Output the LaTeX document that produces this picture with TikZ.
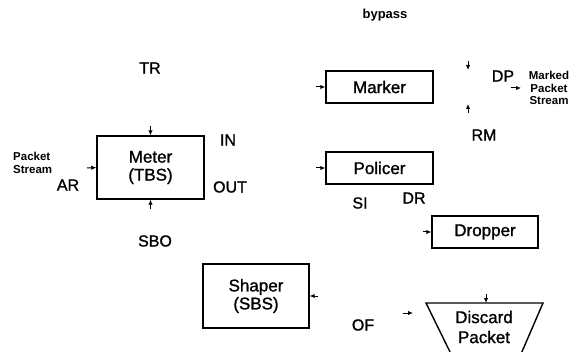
\documentclass[tikz,border=0pt]{standalone}
\usepackage{fontspec}
\setmainfont{Liberation Sans}[FakeBold=1.2]
\newfontfamily\smallbold{Liberation Sans Bold}
\usetikzlibrary{arrows.meta}
\begin{document}
\begin{tikzpicture}[x=1pt,y=-1pt,
  blk/.style={draw, line width=1.4pt, inner sep=0pt, align=center, font=\fontsize{17}{18}\selectfont},
  lbl/.style={inner sep=0pt, font=\fontsize{16}{18}\selectfont},
  small/.style={inner sep=0pt, font=\fontsize{11.5}{12.5}\selectfont\smallbold},
  stub/.style={line width=1pt, -{Latex[length=5pt,width=4.5pt]}}]
\useasboundingbox (0,0) rectangle (577,352);
% boxes
\node[blk, minimum width=107, minimum height=63] (meter) at (150.5,167.5) {Meter\\(TBS)};
\node[blk, minimum width=107, minimum height=32] (marker) at (379.5,87) {Marker};
\node[blk, minimum width=107, minimum height=32] (policer) at (379.5,168) {Policer};
\node[blk, minimum width=106, minimum height=32] (dropper) at (485,232) {Dropper};
\node[blk, minimum width=106, minimum height=64] (shaper) at (256,296) {Shaper\\(SBS)};
% discard trapezoid
\coordinate (d1) at (426,303);
\coordinate (d2) at (543,303);
\coordinate (d3) at (521,354);
\coordinate (d4) at (451,354);
\draw[line width=1.4pt] (d4) -- (d1) -- (d2) -- (d3);
\draw[line width=0.6pt] (d3) -- (d4);
\node[inner sep=0pt, align=center, font=\fontsize{17}{20}\selectfont] (discard) at (484,327) {Discard\\Packet};
\coordinate (dtop) at (486,303);
% labels
\node[lbl] (tr) at (150,68) {TR};
\node[lbl] (in) at (228,140) {IN};
\node[lbl] (out) at (230,187) {OUT};
\node[lbl] (ar) at (68,185) {AR};
\node[lbl] (sbo) at (155,241) {SBO};
\node[lbl] (dp) at (503,76) {DP};
\node[lbl] (rm) at (484,135) {RM};
\node[lbl] (si) at (360,203) {SI};
\node[lbl] (dr) at (414,198) {DR};
\node[lbl] (of) at (363,325) {OF};
\node[inner sep=0pt, font=\fontsize{13}{14}\selectfont\smallbold] (bypass) at (385,15) {bypass};
\node[small, align=left, anchor=west] (ps) at (13,163) {Packet\\Stream};
\node[small, align=center] (mps) at (549,88) {Marked\\Packet\\Stream};
% stubs
\coordinate (s1) at (150.5,126);
\draw[stub] (s1) -- (meter.north);
\coordinate (s2) at (150.5,209);
\draw[stub] (s2) -- (meter.south);
\coordinate (s3) at (87,168);
\draw[stub] (s3) -- (meter.west);
\coordinate (s4) at (316,87);
\draw[stub] (s4) -- (marker.west);
\coordinate (s5) at (316,168);
\draw[stub] (s5) -- (policer.west);
\coordinate (s6) at (423,232);
\draw[stub] (s6) -- (dropper.west);
\coordinate (s7) at (318,296);
\draw[stub] (s7) -- (shaper.east);
\coordinate (s8a) at (468,61);
\coordinate (s8b) at (468,70);
\draw[stub] (s8a) -- (s8b);
\coordinate (s9a) at (468,113);
\coordinate (s9b) at (468,104);
\draw[stub] (s9a) -- (s9b);
\coordinate (s10a) at (511,88);
\coordinate (s10b) at (521,88);
\draw[stub] (s10a) -- (s10b);
\coordinate (s11) at (486,294);
\draw[stub] (s11) -- (dtop);
\coordinate (s12a) at (403,313);
\coordinate (s12b) at (413,313);
\draw[stub] (s12a) -- (s12b);
\end{tikzpicture}
\end{document}
